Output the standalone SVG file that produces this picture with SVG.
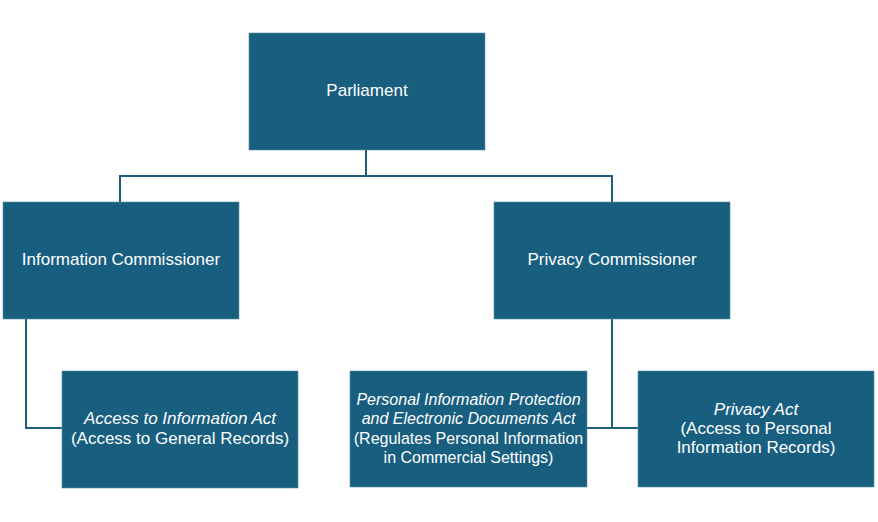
<svg xmlns="http://www.w3.org/2000/svg" width="878" height="522" viewBox="0 0 878 522">
<style>
.box{fill:#175e7f;stroke:#5f8fa8;stroke-width:0.6}
.t{fill:#ffffff;font-family:"Liberation Sans",Arial,sans-serif;font-size:17px;text-anchor:middle}
.s{font-size:16px}
.i{font-style:italic}
.c{fill:none;stroke:#1f5d7c;stroke-width:2}
</style>
<rect width="878" height="522" fill="#ffffff"/>
<g id="connectors">
<path class="c" d="M366 150 V176 M120 176 H612 M120 175 V202 M612 175 V202"/>
<path class="c" d="M26 319 V428 H62"/>
<path class="c" d="M612 319 V428 M587 428 H638"/>
</g>
<g id="parliament">
<rect class="box" x="249" y="33" width="236" height="117"/>
<text class="t" x="367" y="96">Parliament</text>
</g>
<g id="info-commissioner">
<rect class="box" x="3" y="202" width="236" height="117"/>
<text class="t" x="121" y="265">Information Commissioner</text>
</g>
<g id="privacy-commissioner">
<rect class="box" x="494" y="202" width="236" height="117"/>
<text class="t" x="612" y="265">Privacy Commissioner</text>
</g>
<g id="access-act">
<rect class="box" x="62" y="371" width="236" height="117"/>
<text class="t i" x="180" y="424">Access to Information Act</text>
<text class="t" x="180" y="444">(Access to General Records)</text>
</g>
<g id="pipeda">
<rect class="box" x="350" y="371" width="237" height="116"/>
<text class="t s i" x="468.5" y="405">Personal Information Protection</text>
<text class="t s i" x="468.5" y="424">and Electronic Documents Act</text>
<text class="t s" x="468.5" y="444">(Regulates Personal Information</text>
<text class="t s" x="468.5" y="463">in Commercial Settings)</text>
</g>
<g id="privacy-act">
<rect class="box" x="638" y="371" width="236" height="116"/>
<text class="t i" x="756" y="415">Privacy Act</text>
<text class="t" x="756" y="434">(Access to Personal</text>
<text class="t" x="756" y="453">Information Records)</text>
</g>
</svg>
